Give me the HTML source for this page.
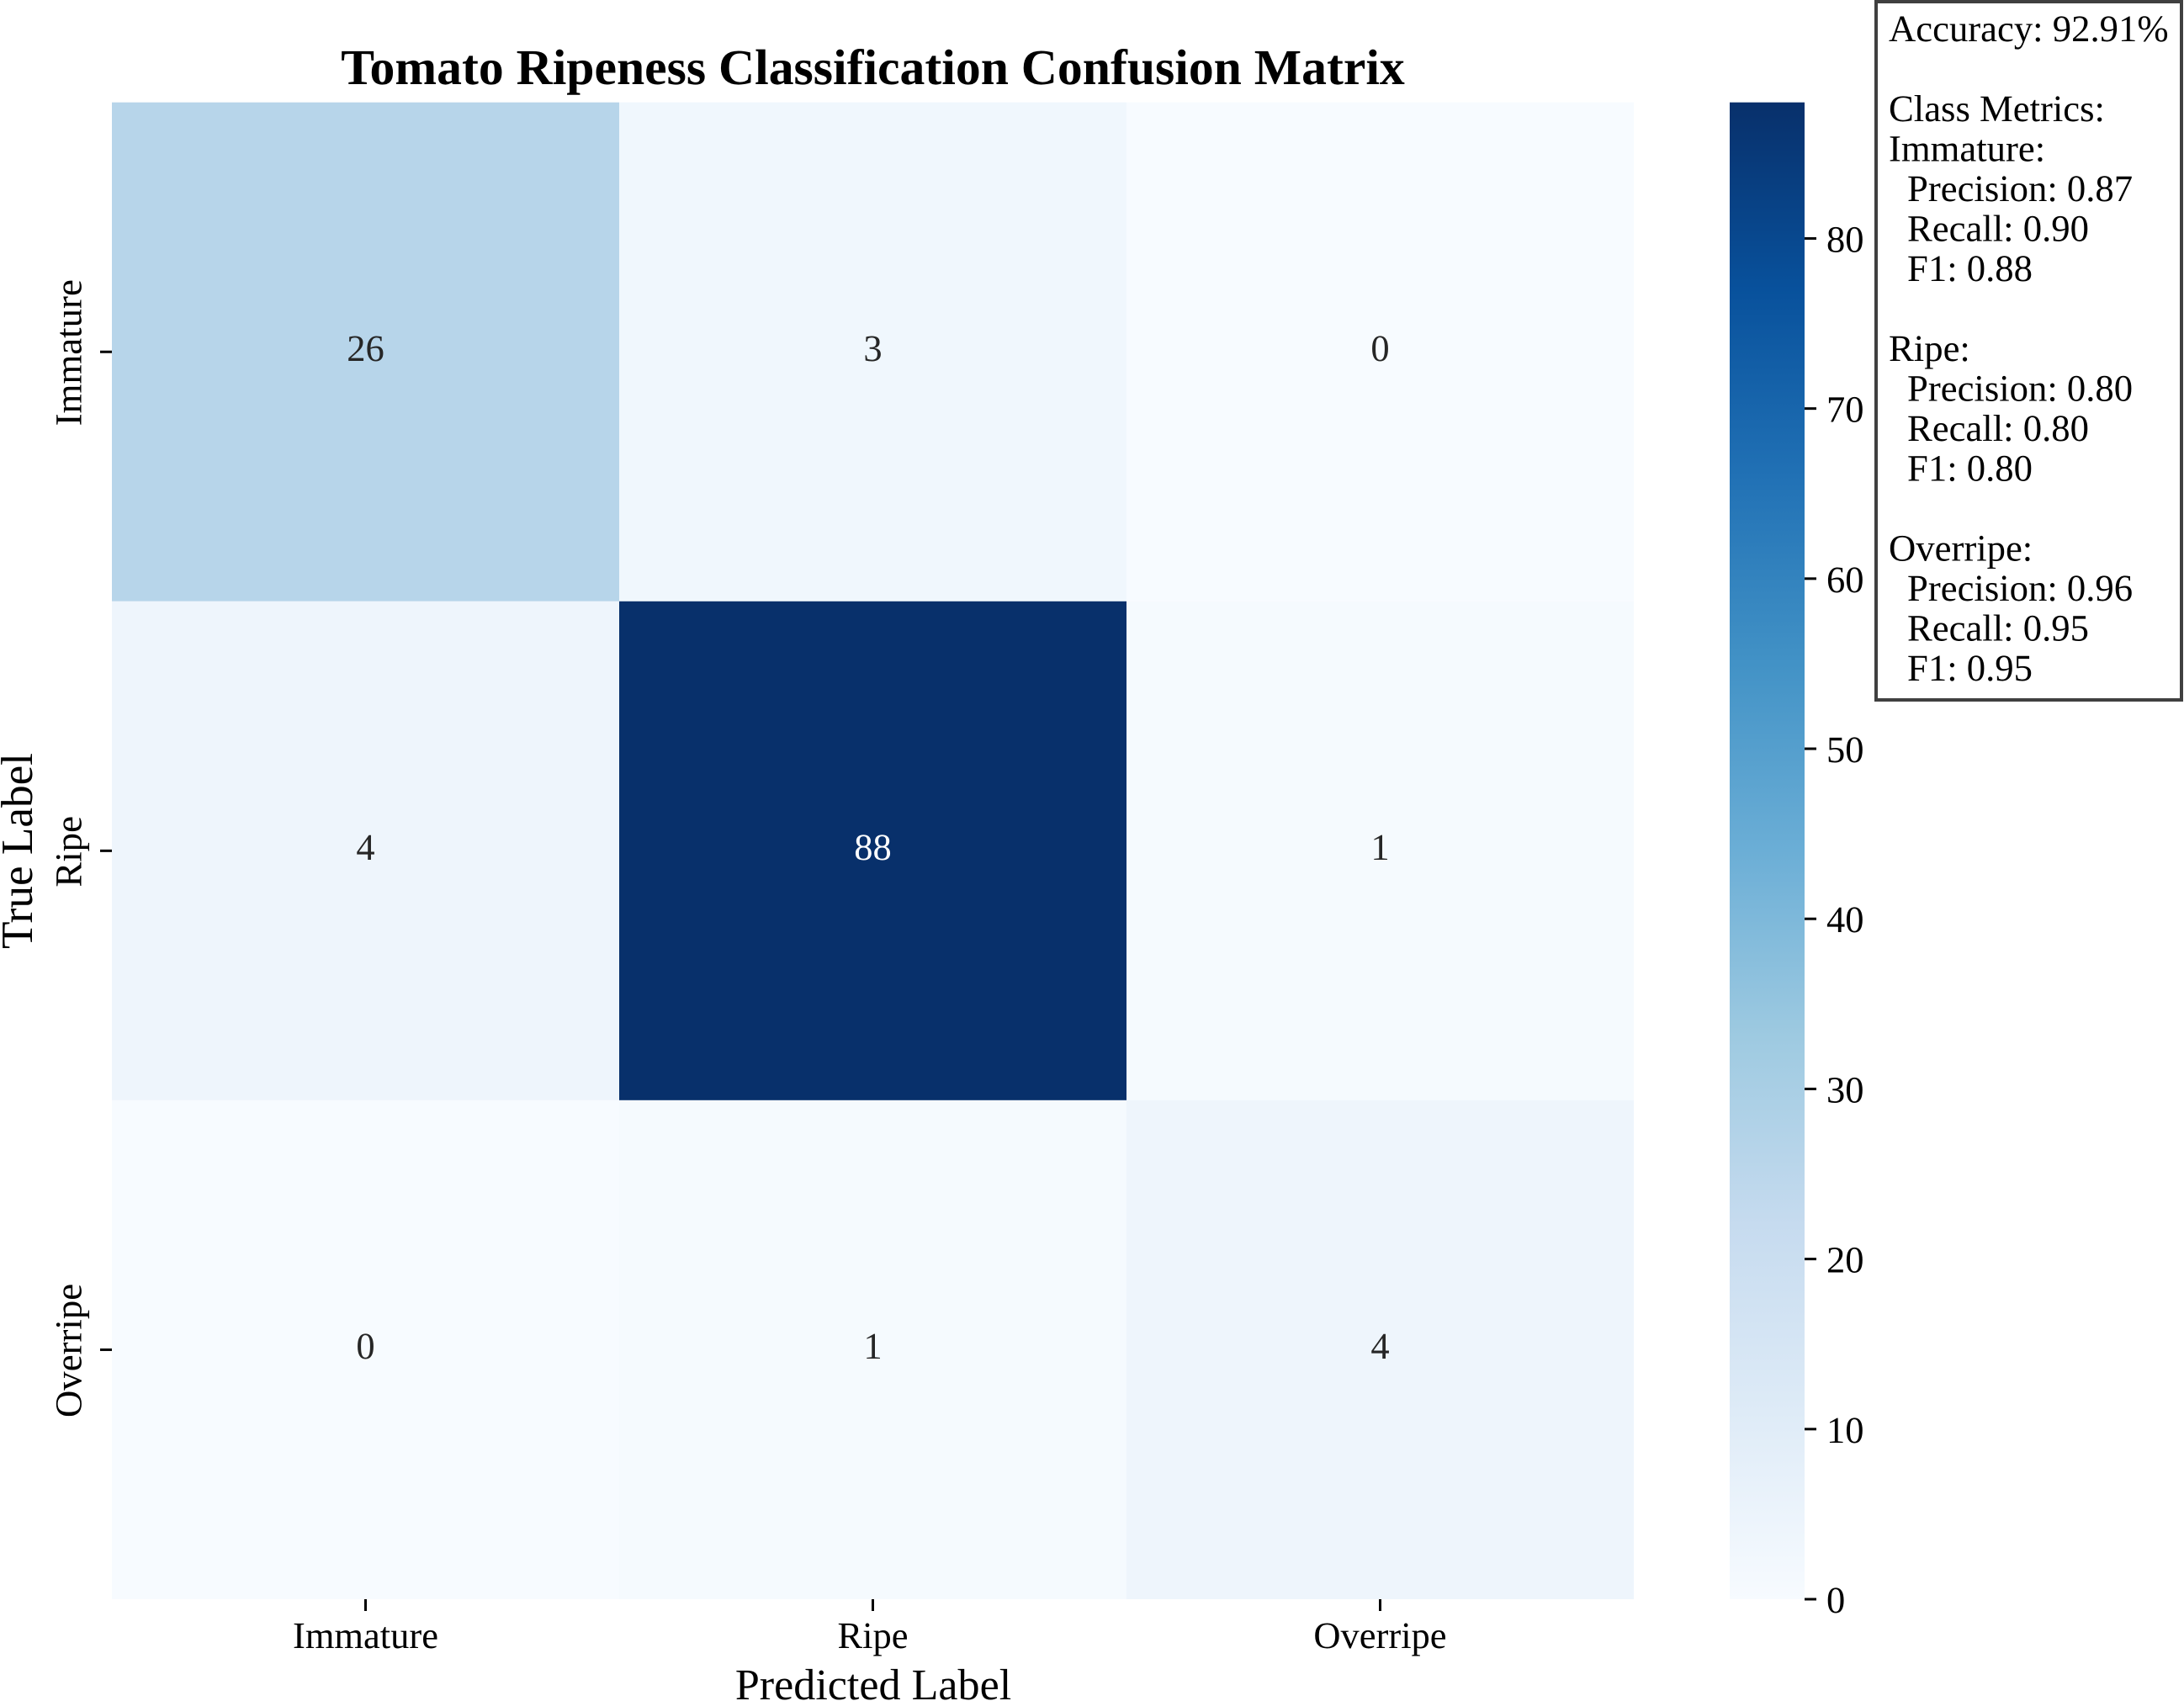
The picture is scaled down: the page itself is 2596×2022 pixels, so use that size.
<!DOCTYPE html>
<html lang="en">
<head>
<meta charset="utf-8">
<title>Tomato Ripeness Classification Confusion Matrix</title>
<style>
html,body{margin:0;padding:0;background:#fff;}
svg{display:block;}
text{font-family:"Liberation Serif","Times New Roman",serif;fill:#000;text-rendering:geometricPrecision;}
</style>
</head>
<body>
<svg id="chart" xmlns="http://www.w3.org/2000/svg" width="2596" height="2022" viewBox="0 0 2596 2022">
  <rect x="0" y="0" width="2596" height="2022" fill="#ffffff"/>
  <defs>
    <linearGradient id="cbar-gradient" x1="0" y1="1" x2="0" y2="0"></linearGradient>
  </defs>
  <text x="1037.5" y="100" text-anchor="middle" font-size="59.7" font-weight="bold">Tomato Ripeness Classification Confusion Matrix</text>
  <g id="cells"></g>
  <g id="xaxis"></g>
  <g id="yaxis"></g>
  <text x="1038" y="2020" text-anchor="middle" font-size="52.1">Predicted Label</text>
  <text transform="translate(38 1011.5) rotate(-90)" text-anchor="middle" font-size="53.2">True Label</text>
  <g id="colorbar"></g>
  <g>
    <rect x="2230" y="2" width="363" height="830" fill="#ffffff" stroke="#404040" stroke-width="4"/>
    <g id="metrics" font-size="44.7"></g>
  </g>
</svg>
<script>
var categories = ["Immature", "Ripe", "Overripe"];
var matrixRowImmature = [26, 3, 0];
var matrixRowRipe = [4, 88, 1];
var matrixRowOverripe = [0, 1, 4];
var colorbarTicks = [0, 10, 20, 30, 40, 50, 60, 70, 80];
var accuracyText = "Accuracy: 92.91%";
var precisionValues = ["0.87", "0.80", "0.96"];
var recallValues = ["0.90", "0.80", "0.95"];
var f1Values = ["0.88", "0.80", "0.95"];

var NS = "http://www.w3.org/2000/svg";
var rows = [matrixRowImmature, matrixRowRipe, matrixRowOverripe];
var blues = ["#f7fbff","#deebf7","#c6dbef","#9ecae1","#6baed6","#4292c6","#2171b5","#08519c","#08306b"];
var plot = {left: 133, right: 1942, top: 121.7, bottom: 1901};
var bar = {left: 2056, right: 2145, top: 121.7, bottom: 1901};

function maxOf() {
  var m = 0;
  rows.forEach(function (r) { r.forEach(function (v) { if (v > m) m = v; }); });
  return m;
}
var vmax = maxOf();

function hexToRgb(h) {
  return [parseInt(h.substr(1, 2), 16), parseInt(h.substr(3, 2), 16), parseInt(h.substr(5, 2), 16)];
}
function colorFor(v) {
  var t = Math.max(0, Math.min(1, v / vmax)) * (blues.length - 1);
  var i = Math.min(Math.floor(t), blues.length - 2);
  var f = t - i;
  var a = hexToRgb(blues[i]);
  var b = hexToRgb(blues[i + 1]);
  return "rgb(" + [0, 1, 2].map(function (k) { return Math.round(a[k] + (b[k] - a[k]) * f); }).join(",") + ")";
}
function xBand(c) { return plot.left + (plot.right - plot.left) * c / categories.length; }
function yBand(r) { return plot.top + (plot.bottom - plot.top) * r / categories.length; }
function yBar(v) { return bar.bottom - (bar.bottom - bar.top) * v / vmax; }

function make(parent, tag, attrs) {
  var el = document.createElementNS(NS, tag);
  Object.keys(attrs).forEach(function (k) { el.setAttribute(k, attrs[k]); });
  parent.appendChild(el);
  return el;
}

var cellsG = document.getElementById("cells");
rows.forEach(function (row, r) {
  row.forEach(function (v, c) {
    var x0 = xBand(c), x1 = xBand(c + 1), y0 = yBand(r), y1 = yBand(r + 1);
    var cell = make(cellsG, "rect", {x: x0, y: y0, width: x1 - x0, height: y1 - y0, fill: colorFor(v)});
    
    
    var label = make(cellsG, "text", {
      x: (x0 + x1) / 2,
      y: (y0 + y1) / 2 + 10.5,
      "text-anchor": "middle",
      "font-size": 44.5,
      style: "fill:" + (v / vmax > 0.6 ? "#ffffff" : "#262626")
    });
    
    
    label.textContent = v;
  });
});

var xG = document.getElementById("xaxis");
var yG = document.getElementById("yaxis");
categories.forEach(function (name, i) {
  var cx = (xBand(i) + xBand(i + 1)) / 2;
  var cy = (yBand(i) + yBand(i + 1)) / 2;

  var xt = make(xG, "line", {x1: cx, x2: cx, y1: plot.bottom, y2: plot.bottom + 14, stroke: "#000", "stroke-width": 3});
  
  
  var xl = make(xG, "text", {x: cx, y: 1959, "text-anchor": "middle", "font-size": 44.5});
  
  
  xl.textContent = name;

  var yt = make(yG, "line", {x1: plot.left - 14, x2: plot.left, y1: cy, y2: cy, stroke: "#000", "stroke-width": 3});
  
  
  var yl = make(yG, "text", {transform: "translate(96.7 " + (cy + 1) + ") rotate(-90)", "text-anchor": "middle", "font-size": 44.8});
  
  
  yl.textContent = name;
});

var grad = document.getElementById("cbar-gradient");
blues.forEach(function (col, i) {
  make(grad, "stop", {offset: i / (blues.length - 1), "stop-color": col});
});
var cbG = document.getElementById("colorbar");
var cbRect = make(cbG, "rect", {x: bar.left, y: bar.top, width: bar.right - bar.left, height: bar.bottom - bar.top, fill: "url(#cbar-gradient)"});


colorbarTicks.forEach(function (v) {
  var y = yBar(v);
  var t = make(cbG, "line", {x1: bar.right, x2: bar.right + 14, y1: y, y2: y, stroke: "#000", "stroke-width": 3});
  
  
  var l = make(cbG, "text", {x: 2171, y: y + 16, "font-size": 44.5});
  
  
  l.textContent = v;
});

var metricsG = document.getElementById("metrics");
var lineNo = 0;
function metricLine(text, indent) {
  if (text) {
    var el = make(metricsG, "text", {x: indent ? 2267 : 2245, y: 49 + lineNo * 47.5});
    
    
    el.textContent = text;
  }
  lineNo++;
}
metricLine(accuracyText, false);
metricLine("", false);
metricLine("Class Metrics:", false);
categories.forEach(function (name, i) {
  metricLine(name + ":", false);
  metricLine("Precision: " + precisionValues[i], true);
  metricLine("Recall: " + recallValues[i], true);
  metricLine("F1: " + f1Values[i], true);
  metricLine("", false);
});
</script>
</body>
</html>
